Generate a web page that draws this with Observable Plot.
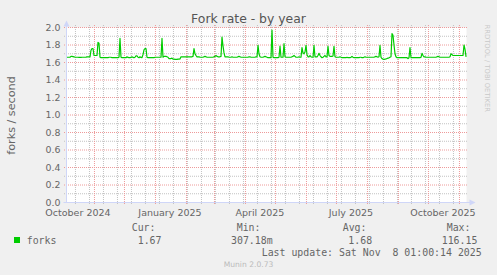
<!DOCTYPE html>
<html><head><meta charset="utf-8">
<script src="https://cdn.jsdelivr.net/npm/d3@7"></script>
<script src="https://cdn.jsdelivr.net/npm/@observablehq/plot@0.6"></script>
<style>
html,body{margin:0;padding:0;background:#F0F0F0;}
svg{display:block}
</style></head><body><div id="chart"></div>
<script>
// ---- data ----
const startDate = new Date(Date.UTC(2024, 9, 4, 1));
const endDate = new Date(Date.UTC(2025, 10, 8, 1));
// daily fork rate (forks / second), one value per day from startDate
const forks = [
1.66,1.66,1.66,1.66,1.67,1.67,1.668,1.665,1.66,1.66,
1.66,1.66,1.658,1.658,1.658,1.66,1.66,1.66,1.66,1.662,
1.665,1.665,1.665,1.665,1.74,1.76,1.76,1.68,1.68,1.68,
1.68,1.83,1.82,1.66,1.655,1.655,1.655,1.655,1.655,1.655,
1.655,1.655,1.66,1.66,1.66,1.655,1.655,1.655,1.655,1.655,
1.655,1.655,1.66,1.875,1.66,1.655,1.655,1.655,1.655,1.655,
1.665,1.658,1.655,1.655,1.658,1.665,1.658,1.655,1.66,1.675,
1.675,1.66,1.655,1.665,1.658,1.655,1.69,1.745,1.76,1.76,
1.66,1.655,1.655,1.655,1.655,1.655,1.655,1.655,1.66,1.66,
1.66,1.66,1.66,1.66,1.66,1.875,1.66,1.67,1.67,1.67,
1.665,1.66,1.645,1.645,1.645,1.65,1.638,1.638,1.635,1.635,
1.635,1.638,1.638,1.64,1.665,1.665,1.665,1.665,1.665,1.665,
1.665,1.665,1.665,1.665,1.665,1.665,1.67,1.76,1.70,1.68,
1.665,1.665,1.665,1.66,1.66,1.66,1.66,1.665,1.67,1.665,
1.66,1.66,1.66,1.66,1.66,1.66,1.66,1.665,1.67,1.68,
1.67,1.665,1.665,1.665,1.67,1.89,1.79,1.71,1.665,1.665,
1.665,1.665,1.66,1.66,1.66,1.665,1.66,1.66,1.66,1.66,
1.66,1.665,1.67,1.665,1.66,1.66,1.66,1.66,1.66,1.66,
1.66,1.66,1.665,1.665,1.66,1.66,1.66,1.66,1.66,1.665,
1.665,1.795,1.70,1.665,1.66,1.66,1.66,1.665,1.67,1.665,
1.66,1.655,1.655,1.655,1.655,1.97,1.66,1.655,1.655,1.655,
1.655,1.655,1.66,1.787,1.66,1.66,1.66,1.815,1.665,1.66,
1.66,1.66,1.66,1.66,1.66,1.665,1.67,1.68,1.67,1.66,
1.66,1.66,1.665,1.66,1.66,1.77,1.71,1.70,1.72,1.795,
1.69,1.665,1.665,1.68,1.665,1.66,1.66,1.795,1.665,1.665,
1.665,1.68,1.705,1.68,1.665,1.655,1.66,1.67,1.68,1.665,
1.665,1.785,1.68,1.67,1.67,1.67,1.675,1.785,1.665,1.66,
1.66,1.66,1.66,1.665,1.66,1.655,1.655,1.655,1.655,1.655,
1.66,1.655,1.655,1.655,1.66,1.67,1.66,1.655,1.655,1.655,
1.655,1.655,1.655,1.66,1.66,1.655,1.655,1.66,1.665,1.66,
1.66,1.66,1.66,1.66,1.66,1.66,1.66,1.66,1.665,1.67,
1.665,1.66,1.665,1.795,1.66,1.645,1.638,1.634,1.638,1.64,
1.645,1.65,1.653,1.66,1.665,1.93,1.91,1.80,1.70,1.665,
1.655,1.655,1.655,1.655,1.655,1.655,1.655,1.655,1.655,1.655,
1.655,1.645,1.655,1.77,1.655,1.655,1.655,1.655,1.655,1.655,
1.655,1.655,1.655,1.655,1.66,1.705,1.68,1.665,1.665,1.66,
1.66,1.66,1.66,1.66,1.66,1.66,1.66,1.66,1.66,1.66,
1.665,1.67,1.665,1.66,1.66,1.66,1.66,1.66,1.66,1.66,
1.66,1.66,1.66,1.665,1.70,1.69,1.68,1.68,1.68,1.68,
1.68,1.68,1.68,1.68,1.68,1.68,1.68,1.80,1.75,1.67
];
const yTickValues = [0, 0.2, 0.4, 0.6, 0.8, 1.0, 1.2, 1.4, 1.6, 1.8, 2.0];
const yTickLabels = ["0.0","0.2","0.4","0.6","0.8","1.0","1.2","1.4","1.6","1.8","2.0"];
const yMinorValues = [0.1, 0.3, 0.5, 0.7, 0.9, 1.1, 1.3, 1.5, 1.7, 1.9];
const xLabels = ["October 2024", "January 2025", "April 2025", "July 2025", "October 2025"];
const xLabelDates = ["2024-10-16", "2025-01-16", "2025-04-16", "2025-07-16", "2025-10-16"];
const titleText = "Fork rate - by year";
const yAxisTitle = "forks / second";
const seriesName = "forks";
const legendHeaders = ["Cur:", "Min:", "Avg:", "Max:"];
const legendValues = ["1.67", "307.18m", "1.68", "116.15"];
const lastUpdate = "Last update: Sat Nov  8 01:00:14 2025";
const footer = "Munin 2.0.73";
const watermark = "RRDTOOL / TOBI OETIKER";

// ---- derived tables ----
const DAY = 864e5;
const series = forks.map((v, i) => ({date: new Date(startDate.getTime() + (i + 0.5) * DAY), value: v}));
const monthStarts = d3.utcMonth.range(startDate, endDate);
const biweekly = d3.range(0, 29).map(k => new Date(Date.UTC(2024, 9, 13 + 14 * k))).filter(d => d < endDate);
const gx1 = new Date(startDate.getTime() - 2 * DAY), gx2 = new Date(endDate.getTime() + 2 * DAY);
const GY1 = -0.023, GY2 = 2.023;
const green = "#00CC00", major = "#EE9A9A", minor = "#C2C2C2", axisCol = "#CFD6F8", fontCol = "#666666";

const chart = Plot.plot({
  width: 497, height: 275,
  marginLeft: 66, marginRight: 31, marginTop: 27, marginBottom: 73,
  style: {background: "#F0F0F0", fontFamily: "DejaVu Sans", overflow: "visible"},
  x: {type: "utc", domain: [startDate, endDate], axis: null},
  y: {domain: [0, 2], axis: null},
  marks: [
    Plot.frame({fill: "white", stroke: null}),
    Plot.ruleY(yMinorValues, {x1: gx1, x2: gx2, stroke: minor, strokeDasharray: "1,1"}),
    Plot.ruleX(biweekly, {y1: GY1, y2: GY2, stroke: minor, strokeDasharray: "1,1"}),
    Plot.ruleY(yTickValues.slice(1), {x1: gx1, x2: gx2, stroke: major, strokeDasharray: "1,1"}),
    Plot.ruleX(monthStarts, {y1: GY1, y2: GY2, stroke: major, strokeDasharray: "1,1"}),
    Plot.line(series, {x: "date", y: "value", stroke: green, strokeWidth: 1.2}),
    Plot.text(yTickValues, {x: startDate, y: d => d, text: (d, i) => yTickLabels[i], textAnchor: "end", dx: -6, fill: fontCol, fontSize: 9.4})
  ]
});

const svg = d3.select(chart);
const xs = chart.scale("x"), ys = chart.scale("y");
const x0 = xs.apply(startDate) + 0.5, x1 = xs.apply(endDate) + 0.5;
const y0 = ys.apply(0) + 0.5, y2 = ys.apply(2) + 0.5;

// axes with arrows
svg.append("path").attr("d", `M${x0},${y0}V${y2 - 4}`).attr("stroke", axisCol).attr("fill", "none");
svg.append("path").attr("d", `M${x0 - 3},${y2 - 1}L${x0 + 3},${y2 - 1}L${x0},${y2 - 7}Z`).attr("fill", axisCol);
svg.append("path").attr("d", `M${x0 - 3},${y0}H${x1 + 4}`).attr("stroke", axisCol).attr("fill", "none");
svg.append("path").attr("d", `M${x1 + 3},${y0 - 3}L${x1 + 3},${y0 + 3}L${x1 + 9},${y0}Z`).attr("fill", axisCol);

const txt = (x, y, s, opts = {}) => svg.append("text").attr("x", x).attr("y", y)
  .attr("text-anchor", opts.anchor || "start").attr("fill", opts.fill || fontCol)
  .attr("font-size", opts.size || 9.9).attr("font-family", opts.family || "DejaVu Sans")
  .style("white-space", "pre").text(s);

// x labels
xLabels.forEach((t, i) => txt(xs.apply(new Date(xLabelDates[i] + "T00:00:00Z")), 215.5, t, {anchor: "middle", size: 9.5}));

// title
txt(248.5, 23, titleText, {anchor: "middle", size: 12.4, fill: "#555"});
// y axis title
svg.append("text").attr("transform", "translate(15,115.5) rotate(-90)").attr("text-anchor", "middle")
  .attr("fill", fontCol).attr("font-size", 11.2).text(yAxisTitle);
// watermark
svg.append("text").attr("transform", "translate(485,24.5) rotate(90)").attr("text-anchor", "start")
  .attr("fill", "#C8C8C8").attr("font-size", 6.8).text(watermark);

// legend
const mono = "DejaVu Sans Mono";
const hx = [131.7, 236.7, 342.7, 446.7];
const vx = [137.7, 231, 348.3, 441.7];
svg.append("rect").attr("x", 14).attr("y", 237).attr("width", 6).attr("height", 6).attr("fill", green);
txt(26.7, 243.5, seriesName, {family: mono});
legendHeaders.forEach((t, i) => {
  txt(hx[i], 231, t, {family: mono});
  txt(vx[i], 243.5, legendValues[i], {family: mono});
});
txt(261.7, 255.5, lastUpdate, {family: mono});
txt(248.5, 266.8, footer, {anchor: "middle", size: 7.6, fill: "#BBBBBB"});

document.getElementById("chart").appendChild(chart);
</script>
</body></html>
